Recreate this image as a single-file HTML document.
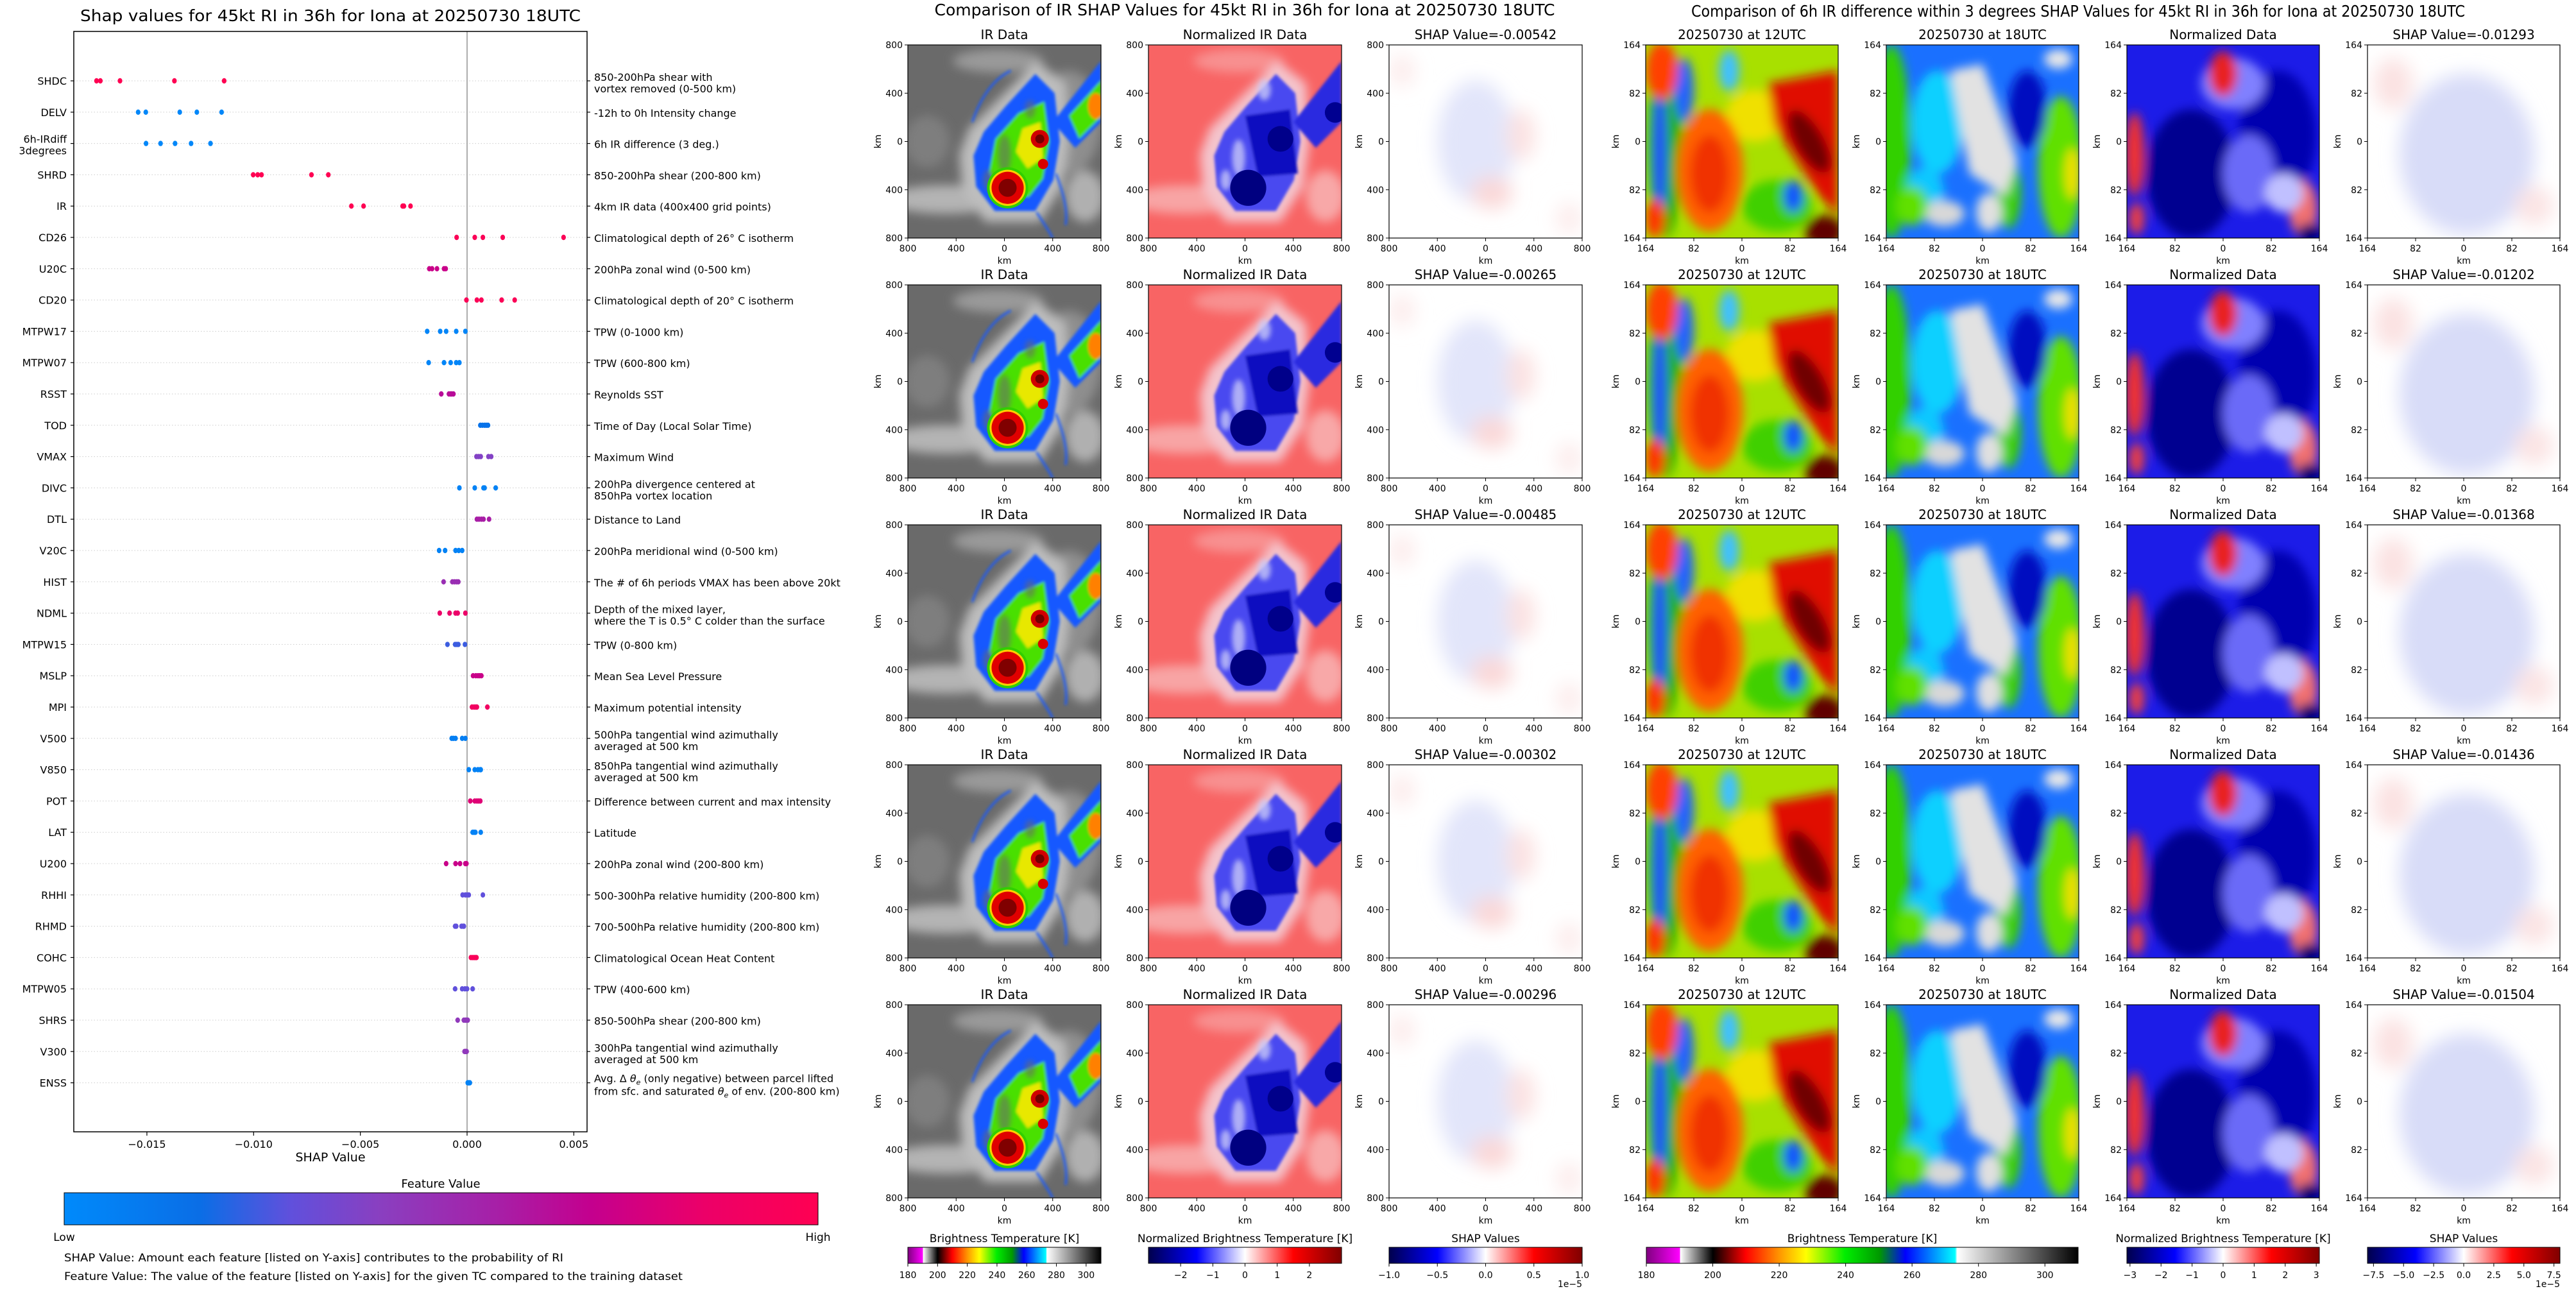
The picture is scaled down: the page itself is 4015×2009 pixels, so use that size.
<!DOCTYPE html>
<html><head><meta charset="utf-8"><title>SHAP RI Iona</title>
<style>
html,body{margin:0;padding:0;background:#fff;}
svg{display:block;font-family:"DejaVu Sans","Liberation Sans",sans-serif;}
</style></head>
<body>
<svg id="root" xmlns="http://www.w3.org/2000/svg" width="4015" height="2009" viewBox="0 0 4015 2009">
<defs>
<filter id="b2" x="-20%" y="-20%" width="140%" height="140%"><feGaussianBlur stdDeviation="2"/></filter>
<filter id="b4" x="-20%" y="-20%" width="140%" height="140%"><feGaussianBlur stdDeviation="4"/></filter>
<filter id="b8" x="-20%" y="-20%" width="140%" height="140%"><feGaussianBlur stdDeviation="8"/></filter>
<filter id="b14" x="-30%" y="-30%" width="160%" height="160%"><feGaussianBlur stdDeviation="14"/></filter>
<linearGradient id="gFeat" x1="0" x2="1" y1="0" y2="0">
<stop offset="0" stop-color="#008afb"/><stop offset="0.18" stop-color="#0a6ee6"/><stop offset="0.3" stop-color="#6050dc"/><stop offset="0.42" stop-color="#8a3fc0"/><stop offset="0.58" stop-color="#a81ea6"/><stop offset="0.7" stop-color="#c4008e"/><stop offset="0.85" stop-color="#ec0068"/><stop offset="1" stop-color="#ff0052"/>
</linearGradient>
<linearGradient id="gIR" x1="0" x2="1" y1="0" y2="0">
<stop offset="0" stop-color="#800080"/><stop offset="0.077" stop-color="#ff00ff"/><stop offset="0.079" stop-color="#ffffff"/><stop offset="0.154" stop-color="#000000"/><stop offset="0.23" stop-color="#ff0000"/><stop offset="0.31" stop-color="#ff9900"/><stop offset="0.37" stop-color="#ffff00"/><stop offset="0.46" stop-color="#00ee00"/><stop offset="0.54" stop-color="#009900"/><stop offset="0.6" stop-color="#0000ff"/><stop offset="0.715" stop-color="#00ffff"/><stop offset="0.72" stop-color="#ffffff"/><stop offset="1" stop-color="#000000"/>
</linearGradient>
<linearGradient id="gSeis" x1="0" x2="1" y1="0" y2="0">
<stop offset="0" stop-color="#00004c"/><stop offset="0.25" stop-color="#0000ff"/><stop offset="0.5" stop-color="#ffffff"/><stop offset="0.75" stop-color="#ff0000"/><stop offset="1" stop-color="#800000"/>
</linearGradient>

<symbol id="imgIR" viewBox="0 0 300 300" preserveAspectRatio="none">
<rect width="300" height="300" fill="#6a6a6a"/>
<g filter="url(#b8)">
<ellipse cx="60" cy="240" rx="95" ry="22" fill="#b4b4b4"/>
<ellipse cx="250" cy="120" rx="50" ry="80" fill="#8e8e8e"/>
<ellipse cx="140" cy="25" rx="70" ry="18" fill="#9a9a9a"/>
<ellipse cx="275" cy="235" rx="30" ry="40" fill="#b0b0b0"/>
<ellipse cx="30" cy="150" rx="35" ry="40" fill="#7e7e7e"/>
<polygon points="95,130 145,80 200,25 245,60 250,150 240,220 205,275 120,275 85,225 80,170" fill="#bdbdbd"/>
</g>
<g filter="url(#b2)">
<polygon points="118,135 152,95 198,45 228,75 236,150 226,210 198,258 135,258 106,220 102,172" fill="#1458ff"/>
<polygon points="225,120 300,25 300,120 260,160" fill="#1458ff"/>
<polygon points="136,146 172,106 212,88 220,150 210,208 188,236 144,232 126,198" fill="#48e000"/>
<polygon points="250,110 300,55 300,112 266,146" fill="#48e000"/>
<polygon points="178,130 206,120 210,176 186,192 168,166" fill="#e8e800"/>
<ellipse cx="292" cy="95" rx="12" ry="20" fill="#ff8000"/>
</g>
<g filter="url(#b4)" fill="#6a6a6a" opacity="0.6">
<ellipse cx="150" cy="170" rx="10" ry="30"/>
<ellipse cx="190" cy="100" rx="8" ry="14"/>
<ellipse cx="125" cy="210" rx="8" ry="16"/>
</g>
<g stroke="#1458ff" stroke-width="3" fill="none" filter="url(#b2)">
<path d="M100,120 Q 120,60 160,40"/>
<path d="M200,260 Q 220,290 225,300"/>
<path d="M230,200 Q 250,250 245,280"/>
</g>
<circle cx="155" cy="222" r="32" fill="#30d000"/>
<circle cx="155" cy="222" r="28" fill="#ffd000"/>
<circle cx="155" cy="222" r="25" fill="#e00000"/>
<circle cx="155" cy="222" r="14" fill="#800000"/>
<circle cx="205" cy="146" r="14" fill="#d00000"/>
<circle cx="205" cy="146" r="7" fill="#700000"/>
<circle cx="210" cy="185" r="8" fill="#d80000"/>
</symbol>

<symbol id="imgNIR" viewBox="0 0 300 300" preserveAspectRatio="none">
<rect width="300" height="300" fill="#f86464"/>
<g filter="url(#b8)">
<ellipse cx="60" cy="240" rx="95" ry="22" fill="#f8a4a4"/>
<ellipse cx="140" cy="25" rx="70" ry="18" fill="#f89090"/>
<ellipse cx="275" cy="235" rx="30" ry="40" fill="#f8a8a8"/>
<polygon points="95,130 145,80 200,25 245,60 250,150 240,220 205,275 120,275 85,225 80,170" fill="#f4c4cc"/>
</g>
<g filter="url(#b2)">
<polygon points="118,135 152,95 198,45 228,75 236,150 226,210 198,258 135,258 106,220 102,172" fill="#4a4af0"/>
<polygon points="225,120 300,25 300,120 260,160" fill="#2a2ae0"/>
<polygon points="150,110 220,100 232,200 170,205" fill="#1010c0"/>
</g>
<g filter="url(#b4)" fill="#c8c8f8" opacity="0.8">
<ellipse cx="140" cy="175" rx="10" ry="28"/>
<ellipse cx="120" cy="210" rx="8" ry="16"/>
<ellipse cx="180" cy="70" rx="10" ry="16"/>
</g>
<circle cx="155" cy="222" r="28" fill="#000080"/>
<circle cx="205" cy="146" r="20" fill="#00008a"/>
<circle cx="290" cy="105" r="16" fill="#000090"/>
</symbol>

<symbol id="imgSHP" viewBox="0 0 300 300" preserveAspectRatio="none">
<rect width="300" height="300" fill="#ffffff"/>
<g filter="url(#b14)">
<ellipse cx="135" cy="150" rx="60" ry="95" fill="#e2e5fa"/>
<ellipse cx="205" cy="140" rx="22" ry="40" fill="#fbe2e2"/>
<ellipse cx="160" cy="230" rx="32" ry="25" fill="#fad8d8"/>
<ellipse cx="20" cy="40" rx="20" ry="25" fill="#fcecec"/>
<ellipse cx="280" cy="270" rx="20" ry="25" fill="#fcecec"/>
</g>
</symbol>

<symbol id="img12" viewBox="0 0 300 300" preserveAspectRatio="none">
<rect width="300" height="300" fill="#a8e000"/>
<g filter="url(#b8)">
<ellipse cx="30" cy="150" rx="28" ry="150" fill="#20b000"/>
<ellipse cx="22" cy="170" rx="10" ry="120" fill="#2040ff"/>
<ellipse cx="60" cy="70" rx="15" ry="50" fill="#2060ff"/>
<ellipse cx="25" cy="40" rx="25" ry="45" fill="#ff4000"/>
<ellipse cx="15" cy="270" rx="15" ry="30" fill="#ff3000"/>
<ellipse cx="170" cy="110" rx="45" ry="40" fill="#f0e000"/>
<ellipse cx="100" cy="195" rx="52" ry="95" fill="#ff6000"/>
<ellipse cx="100" cy="200" rx="30" ry="60" fill="#f03000"/>
<polygon points="190,60 300,40 300,265 270,235 200,125" fill="#e01000"/>
<ellipse cx="255" cy="150" rx="22" ry="55" fill="#700000" transform="rotate(-30 255 150)"/>
<ellipse cx="130" cy="40" rx="16" ry="32" fill="#40c0ff"/>
<ellipse cx="205" cy="250" rx="55" ry="40" fill="#40d000"/>
<ellipse cx="230" cy="235" rx="15" ry="25" fill="#1050ff"/>
<ellipse cx="278" cy="290" rx="30" ry="25" fill="#600000"/>
</g>
</symbol>

<symbol id="img18" viewBox="0 0 300 300" preserveAspectRatio="none">
<rect width="300" height="300" fill="#1a70ff"/>
<g filter="url(#b8)">
<ellipse cx="8" cy="150" rx="30" ry="150" fill="#30d000"/>
<ellipse cx="272" cy="190" rx="35" ry="110" fill="#60e000"/>
<ellipse cx="290" cy="200" rx="12" ry="40" fill="#f0e000"/>
<ellipse cx="80" cy="120" rx="40" ry="80" fill="#10d0ff"/>
<ellipse cx="60" cy="230" rx="30" ry="40" fill="#10c8ff"/>
<ellipse cx="190" cy="230" rx="20" ry="55" fill="#40d000"/>
<polygon points="100,40 150,30 205,180 185,235 130,200" fill="#e2e2e2"/>
<ellipse cx="90" cy="262" rx="32" ry="20" fill="#d8d8d8"/>
<ellipse cx="220" cy="100" rx="30" ry="60" fill="#0010c0"/>
<ellipse cx="268" cy="22" rx="22" ry="15" fill="#e8e8e8"/>
<ellipse cx="40" cy="250" rx="25" ry="30" fill="#60e000"/>
<ellipse cx="160" cy="260" rx="20" ry="30" fill="#e0e0e0"/>
</g>
</symbol>

<symbol id="imgND" viewBox="0 0 300 300" preserveAspectRatio="none">
<rect width="300" height="300" fill="#1c1ce8"/>
<g filter="url(#b8)">
<ellipse cx="100" cy="200" rx="70" ry="100" fill="#000090"/>
<ellipse cx="235" cy="140" rx="60" ry="100" fill="#0000b0"/>
<ellipse cx="165" cy="60" rx="50" ry="40" fill="#8080ff"/>
<ellipse cx="190" cy="200" rx="40" ry="60" fill="#6a6af8"/>
<ellipse cx="12" cy="170" rx="15" ry="65" fill="#f03030"/>
<ellipse cx="15" cy="270" rx="12" ry="25" fill="#f04040"/>
<ellipse cx="150" cy="45" rx="22" ry="35" fill="#e82020"/>
<ellipse cx="275" cy="255" rx="22" ry="45" fill="#f07070"/>
<ellipse cx="245" cy="230" rx="30" ry="30" fill="#c0c0ff"/>
<ellipse cx="285" cy="292" rx="20" ry="15" fill="#000070"/>
</g>
</symbol>

<symbol id="imgDS" viewBox="0 0 300 300" preserveAspectRatio="none">
<rect width="300" height="300" fill="#ffffff"/>
<g filter="url(#b14)">
<ellipse cx="155" cy="170" rx="105" ry="125" fill="#d8dcf8"/>
<ellipse cx="40" cy="60" rx="30" ry="40" fill="#fbe2e2"/>
<ellipse cx="260" cy="250" rx="30" ry="30" fill="#fbe4e4"/>
</g>
</symbol>
</defs>
<g id="layer"></g>
</svg>
<script>
// ---------------- data ----------------
const featureNames = ["SHDC","DELV","6h-IRdiff\n3degrees","SHRD","IR","CD26","U20C","CD20","MTPW17","MTPW07","RSST","TOD","VMAX","DIVC","DTL","V20C","HIST","NDML","MTPW15","MSLP","MPI","V500","V850","POT","LAT","U200","RHHI","RHMD","COHC","MTPW05","SHRS","V300","ENSS"];
const featureDesc = ["850-200hPa shear with\nvortex removed (0-500 km)","-12h to 0h Intensity change","6h IR difference (3 deg.)","850-200hPa shear (200-800 km)","4km IR data (400x400 grid points)","Climatological depth of 26° C isotherm","200hPa zonal wind (0-500 km)","Climatological depth of 20° C isotherm","TPW (0-1000 km)","TPW (600-800 km)","Reynolds SST","Time of Day (Local Solar Time)","Maximum Wind","200hPa divergence centered at\n850hPa vortex location","Distance to Land","200hPa meridional wind (0-500 km)","The # of 6h periods VMAX has been above 20kt","Depth of the mixed layer,\nwhere the T is 0.5° C colder than the surface","TPW (0-800 km)","Mean Sea Level Pressure","Maximum potential intensity","500hPa tangential wind azimuthally\naveraged at 500 km","850hPa tangential wind azimuthally\naveraged at 500 km","Difference between current and max intensity","Latitude","200hPa zonal wind (200-800 km)","500-300hPa relative humidity (200-800 km)","700-500hPa relative humidity (200-800 km)","Climatological Ocean Heat Content","TPW (400-600 km)","850-500hPa shear (200-800 km)","300hPa tangential wind azimuthally\naveraged at 500 km","ENSS_DESC"];
const shapValues = [
 [-0.01736,-0.01718,-0.01626,-0.01371,-0.01138],
 [-0.01541,-0.01505,-0.01346,-0.01266,-0.01150],
 [-0.01504,-0.01436,-0.01368,-0.01293,-0.01202],
 [-0.01002,-0.00981,-0.00963,-0.00729,-0.00650],
 [-0.00542,-0.00485,-0.00302,-0.00296,-0.00265],
 [-0.00049,0.00036,0.00074,0.00167,0.00452],
 [-0.00177,-0.00164,-0.00141,-0.00108,-0.00100],
 [-0.00003,0.00046,0.00067,0.00162,0.00223],
 [-0.00187,-0.00126,-0.00098,-0.00051,-0.00008],
 [-0.00180,-0.00108,-0.00077,-0.00051,-0.00036],
 [-0.00121,-0.00085,-0.00077,-0.00072,-0.00064],
 [0.00062,0.00072,0.00082,0.00090,0.00098],
 [0.00044,0.00054,0.00064,0.00100,0.00113],
 [-0.00036,0.00036,0.00077,0.00082,0.00134],
 [0.00046,0.00056,0.00067,0.00077,0.00103],
 [-0.00131,-0.00103,-0.00054,-0.00039,-0.00023],
 [-0.00110,-0.00069,-0.00059,-0.00049,-0.00041],
 [-0.00128,-0.00082,-0.00054,-0.00044,-0.00008],
 [-0.00092,-0.00056,-0.00048,-0.00041,-0.00010],
 [0.00028,0.00041,0.00051,0.00059,0.00067],
 [0.00023,0.00033,0.00041,0.00046,0.00095],
 [-0.00072,-0.00064,-0.00054,-0.00023,-0.00008],
 [0.00008,0.00036,0.00051,0.00062,0.00064],
 [0.00015,0.00036,0.00046,0.00054,0.00062],
 [0.00026,0.00031,0.00036,0.00039,0.00064],
 [-0.00098,-0.00054,-0.00033,-0.00008,-0.00003],
 [-0.00021,-0.00008,0.00000,0.00008,0.00074],
 [-0.00056,-0.00051,-0.00026,-0.00018,-0.00015],
 [0.00018,0.00026,0.00033,0.00039,0.00044],
 [-0.00056,-0.00023,-0.00010,0.00000,0.00026],
 [-0.00044,-0.00015,-0.00008,-0.00003,0.00003],
 [-0.00012,-0.00009,-0.00006,-0.00004,-0.00002],
 [0.00003,0.00006,0.00008,0.00010,0.00013]
];
const featureLevel = [1,0.02,0.02,1,1,0.97,0.72,0.97,0.03,0.03,0.65,0.15,0.4,0.05,0.58,0.05,0.5,0.85,0.25,0.72,0.9,0.08,0.05,0.8,0.05,0.72,0.3,0.3,0.95,0.3,0.45,0.45,0.05];
const xTicks = [-0.015,-0.010,-0.005,0.000,0.005];
const xTickLabels = ["−0.015","−0.010","−0.005","0.000","0.005"];
const irShap = ["-0.00542","-0.00265","-0.00485","-0.00302","-0.00296"];
const diffShap = ["-0.01293","-0.01202","-0.01368","-0.01436","-0.01504"];

// ---------------- helpers ----------------
const NS = "http://www.w3.org/2000/svg";
const layer = document.getElementById("layer");
function mk(tag, attrs, parent) {
  const e = document.createElementNS(NS, tag);
  for (const k in attrs) e.setAttribute(k, attrs[k]);
  (parent || layer).appendChild(e);
  return e;
}
function txt(x, y, s, size, anchor, parent, extra) {
  const a = {x: x, y: y, "font-size": size, "text-anchor": anchor || "start", fill: "#000"};
  if (extra) for (const k in extra) a[k] = extra[k];
  const t = mk("text", a, parent);
  t.textContent = s;
  return t;
}
const featStops = [[0,[0,138,251]],[0.18,[10,110,230]],[0.3,[96,80,220]],[0.42,[138,63,192]],[0.58,[168,30,166]],[0.7,[196,0,142]],[0.85,[236,0,104]],[1,[255,0,82]]];
function featColor(v) {
  for (let i = 1; i < featStops.length; i++) {
    if (v <= featStops[i][0]) {
      const a = featStops[i-1], b = featStops[i];
      const t = (v - a[0]) / (b[0] - a[0]);
      const c = a[1].map((q, j) => Math.round(q + (b[1][j] - q) * t));
      return "rgb(" + c.join(",") + ")";
    }
  }
  return "rgb(255,0,82)";
}

// ---------------- left beeswarm chart ----------------
const AX_L = 115, AX_R = 915, AX_T = 49, AX_B = 1764;
const ZERO_X = 728, PX_PER_UNIT = 33270;
const ROW0 = 126, ROW_STEP = 48.8;
const xScale = v => ZERO_X + v * PX_PER_UNIT;
const yScale = i => ROW0 + i * ROW_STEP;

const left = mk("g", {});



const ttl = txt(515, 33, "Shap values for 45kt RI in 36h for Iona at 20250730 18UTC", 25, "middle", left, {textLength: 780, lengthAdjust: "spacingAndGlyphs"});



featureNames.forEach((n, i) => {
  const y = yScale(i);
  const g = mk("line", {x1: AX_L, x2: AX_R, y1: y, y2: y, stroke: "#cccccc", "stroke-width": 1, "stroke-dasharray": "1.5,3"}, left);
  
  
  mk("line", {x1: AX_L - 5, x2: AX_L, y1: y, y2: y, stroke: "#000", "stroke-width": 1.2}, left);
  mk("line", {x1: AX_R, x2: AX_R + 5, y1: y, y2: y, stroke: "#000", "stroke-width": 1.2}, left);
  const parts = n.split("\n");
  if (parts.length === 1) {
    const t = txt(AX_L - 11, y + 6, n, 16, "end", left);
    
    
  } else {
    parts.forEach((p, k) => {
      const t = txt(AX_L - 11, y - 1 + k * 18, p, 16, "end", left);
      
      
    });
  }
  const d = featureDesc[i];
  if (d === "ENSS_DESC") {
    const t1 = mk("text", {x: 926, y: y - 1, "font-size": 16}, left);
    t1.innerHTML = 'Avg. Δ <tspan font-style="italic">θ</tspan><tspan font-size="11" dy="4" font-style="italic">e</tspan><tspan dy="-4"> (only negative) between parcel lifted</tspan>';
    
    
    const t2 = mk("text", {x: 926, y: y + 19, "font-size": 16}, left);
    t2.innerHTML = 'from sfc. and saturated <tspan font-style="italic">θ</tspan><tspan font-size="11" dy="4" font-style="italic">e</tspan><tspan dy="-4"> of env. (200-800 km)</tspan>';
    
    
  } else {
    const dp = d.split("\n");
    if (dp.length === 1) {
      const t = txt(926, y + 7, d, 16, "start", left);
      
      
    } else {
      dp.forEach((p, k) => {
        const t = txt(926, y + 0 + k * 18, p, 16, "start", left);
        
        
      });
    }
  }
});

const zl = mk("line", {x1: ZERO_X, x2: ZERO_X, y1: AX_T, y2: AX_B, stroke: "#999999", "stroke-width": 1.6}, left);



shapValues.forEach((vals, i) => {
  const col = featColor(featureLevel[i]);
  vals.forEach(v => {
    const p = mk("ellipse", {cx: xScale(v), cy: yScale(i), rx: 3.6, ry: 4.2, fill: col}, left);
    
    
  });
});

const frame = mk("rect", {x: AX_L, y: AX_T, width: AX_R - AX_L, height: AX_B - AX_T, fill: "none", stroke: "#000", "stroke-width": 1.5}, left);



xTicks.forEach((v, k) => {
  const x = xScale(v);
  mk("line", {x1: x, x2: x, y1: AX_B, y2: AX_B + 6, stroke: "#000", "stroke-width": 1.2}, left);
  const t = txt(x, AX_B + 25, xTickLabels[k], 16, "middle", left);
  
  
});
const xl = txt(515, 1810, "SHAP Value", 19, "middle", left);



const fvt = txt(687, 1851, "Feature Value", 18, "middle", left);


const fcb = mk("rect", {x: 100, y: 1859, width: 1175, height: 50, fill: "url(#gFeat)", stroke: "#000", "stroke-width": 1}, left);


const lo = txt(100, 1934, "Low", 17, "middle", left);


const hi = txt(1275, 1934, "High", 17, "middle", left);


const fn1 = txt(100, 1966, "SHAP Value: Amount each feature [listed on Y-axis] contributes to the probability of RI", 17, "start", left, {textLength: 778, lengthAdjust: "spacingAndGlyphs"});


const fn2 = txt(100, 1995, "Feature Value: The value of the feature [listed on Y-axis] for the given TC compared to the training dataset", 17, "start", left, {textLength: 964, lengthAdjust: "spacingAndGlyphs"});



// ---------------- image panel grids ----------------
const ROW_TOPS = [70, 444, 818, 1192, 1566];
const PH = 301;
function panel(x0, y0, w, sym, title, ticks, nm) {
  const g = mk("g", {});
  
  
  mk("use", {href: "#" + sym, x: x0, y: y0, width: w, height: PH}, g);
  mk("rect", {x: x0, y: y0, width: w, height: PH, fill: "none", stroke: "#000", "stroke-width": 1.2}, g);
  const t = txt(x0 + w / 2, y0 - 9, title, 20, "middle", g);
  
  
  ticks.forEach((lab, k) => {
    const fx = x0 + w * k / 4, fy = y0 + PH * k / 4;
    mk("line", {x1: x0 - 5, x2: x0, y1: fy, y2: fy, stroke: "#000", "stroke-width": 1}, g);
    mk("line", {x1: fx, x2: fx, y1: y0 + PH, y2: y0 + PH + 5, stroke: "#000", "stroke-width": 1}, g);
    const ty = txt(x0 - 8, fy + 5, lab, 14, "end", g);
    
    
    const tx = txt(fx, y0 + PH + 21, lab, 14, "middle", g);
    
    
  });
  const kx = txt(x0 + w / 2, y0 + PH + 40, "km", 14, "middle", g);
  
  
  const kyX = x0 - 42, kyY = y0 + PH / 2;
  const ky = txt(kyX, kyY, "km", 14, "middle", g, {transform: "rotate(-90 " + kyX + " " + kyY + ")"});
  
  
}
const irTicks = ["800","400","0","400","800"];
const kmTicks = ["164","82","0","82","164"];
const midX = [1415, 1790, 2165];
const rightX = [2565, 2940, 3315, 3690];
ROW_TOPS.forEach((y0, r) => {
  panel(midX[0], y0, 301, "imgIR", "IR Data", irTicks, "ir-data-panel");
  panel(midX[1], y0, 301, "imgNIR", "Normalized IR Data", irTicks, "normalized-ir-panel");
  panel(midX[2], y0, 301, "imgSHP", "SHAP Value=" + irShap[r], irTicks, "ir-shap-panel");
  panel(rightX[0], y0, 300, "img12", "20250730 at 12UTC", kmTicks, "ir-12utc-panel");
  panel(rightX[1], y0, 300, "img18", "20250730 at 18UTC", kmTicks, "ir-18utc-panel");
  panel(rightX[2], y0, 300, "imgND", "Normalized Data", kmTicks, "normalized-diff-panel");
  panel(rightX[3], y0, 300, "imgDS", "SHAP Value=" + diffShap[r], kmTicks, "diff-shap-panel");
});

const mt = txt(1940, 24, "Comparison of IR SHAP Values for 45kt RI in 36h for Iona at 20250730 18UTC", 25, "middle", null, {textLength: 967, lengthAdjust: "spacingAndGlyphs"});


const rt = txt(3239, 26, "Comparison of 6h IR difference within 3 degrees SHAP Values for 45kt RI in 36h for Iona at 20250730 18UTC", 25, "middle", null, {textLength: 1206, lengthAdjust: "spacingAndGlyphs"});



// ---------------- colorbars ----------------
const CB_T = 1944, CB_H = 25;
function cbar(x0, x1, grad, title, vmin, vmax, ticks, labels, expo, nm) {
  const g = mk("g", {});
  
  
  const t = txt((x0 + x1) / 2, CB_T - 8, title, 17, "middle", g);
  
  
  mk("rect", {x: x0, y: CB_T, width: x1 - x0, height: CB_H, fill: "url(#" + grad + ")", stroke: "#000", "stroke-width": 1}, g);
  ticks.forEach((v, k) => {
    const x = x0 + (v - vmin) / (vmax - vmin) * (x1 - x0);
    mk("line", {x1: x, x2: x, y1: CB_T + CB_H, y2: CB_T + CB_H + 5, stroke: "#000", "stroke-width": 1}, g);
    const l = txt(x, CB_T + CB_H + 23, labels[k], 14, "middle", g);
    
    
  });
  if (expo) {
    const e = txt(x1, 2006, "1e−5", 14, "end", g);
    
    
  }
}
const btTicks = [180, 200, 220, 240, 260, 280, 300];
const btLabels = ["180","200","220","240","260","280","300"];
cbar(1415, 1716, "gIR", "Brightness Temperature [K]", 180, 310, btTicks, btLabels, false, "ir-brightness-colorbar");
cbar(1790, 2091, "gSeis", "Normalized Brightness Temperature [K]", -3, 3, [-2,-1,0,1,2], ["−2","−1","0","1","2"], false, "ir-normalized-colorbar");
cbar(2165, 2466, "gSeis", "SHAP Values", -1, 1, [-1,-0.5,0,0.5,1], ["−1.0","−0.5","0.0","0.5","1.0"], true, "ir-shap-colorbar");
cbar(2566, 3239, "gIR", "Brightness Temperature [K]", 180, 310, btTicks, btLabels, false, "diff-brightness-colorbar");
cbar(3315, 3615, "gSeis", "Normalized Brightness Temperature [K]", -3.1, 3.1, [-3,-2,-1,0,1,2,3], ["−3","−2","−1","0","1","2","3"], false, "diff-normalized-colorbar");
cbar(3690, 3990, "gSeis", "SHAP Values", -8, 8, [-7.5,-5,-2.5,0,2.5,5,7.5], ["−7.5","−5.0","−2.5","0.0","2.5","5.0","7.5"], true, "diff-shap-colorbar");
</script>
</body></html>
